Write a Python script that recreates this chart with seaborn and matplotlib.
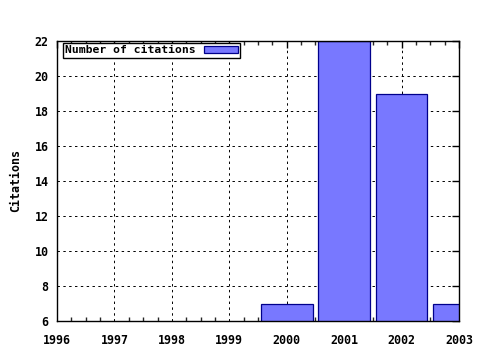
import matplotlib
matplotlib.use("Agg")
import matplotlib.pyplot as plt
from matplotlib.ticker import MultipleLocator
import seaborn as sns
import pandas as pd

years = [2000, 2001, 2002, 2003]
citations = [7, 22, 19, 7]
x_ticks = [1996, 1997, 1998, 1999, 2000, 2001, 2002, 2003]
y_ticks = [6, 8, 10, 12, 14, 16, 18, 20, 22]

sns.set_style("white")
plt.rcParams['font.family'] = ['DejaVu Sans Mono']
plt.rcParams['font.weight'] = 'bold'

df = pd.DataFrame({"year": years, "cit": citations})

fig = plt.figure(figsize=(4.8, 3.5), dpi=100)
ax = fig.add_axes([57/480, 29/350, (459-57)/480, (321-41)/350])

sns.barplot(data=df, x="year", y="cit", native_scale=True, width=0.9,
            color="#7878ff", saturation=1, edgecolor="#00008b", linewidth=0.9,
            ax=ax, label="Number of citations", zorder=3)

ax.set_xlim(1996, 2003)
ax.set_ylim(6, 22)
ax.set_xticks(x_ticks)
ax.set_xticklabels([str(v) for v in x_ticks])
ax.set_yticks(y_ticks)
ax.xaxis.set_minor_locator(MultipleLocator(0.25))
ax.grid(True, which="major", linestyle=(0, (2.5, 3.5)), color="black", linewidth=0.7, zorder=1)
ax.set_axisbelow(True)
for s in ax.spines.values():
    s.set_visible(True)
    s.set_color("black")
    s.set_linewidth(1.0)
    s.set_zorder(5)
ax.tick_params(axis="both", which="major", direction="in", length=5, width=1,
               top=True, right=True, labelsize=8.4, colors="black")
ax.tick_params(axis="x", which="major", pad=9)
ax.tick_params(axis="y", which="major", pad=6)
ax.tick_params(axis="x", which="minor", direction="in", length=3, width=1, top=True, bottom=True)
ax.set_xlabel("")
ax.set_ylabel("Citations", fontsize=8.4, fontweight="bold", color="black", labelpad=9)
for lab in ax.get_xticklabels() + ax.get_yticklabels():
    lab.set_fontweight("bold")

leg = ax.legend(loc="upper left", bbox_to_anchor=(6/402, 1 - 2/280), frameon=True, fancybox=False,
                fontsize=8.2, borderpad=0.2, handlelength=3.0, handleheight=0.55,
                handletextpad=0.7, markerfirst=False, borderaxespad=0)
leg.get_frame().set_edgecolor("black")
leg.get_frame().set_linewidth(1.0)
leg.get_frame().set_facecolor("white")
leg.get_frame().set_alpha(1)
for t in leg.get_texts():
    t.set_fontweight("bold")
    t.set_color("black")

fig.savefig("out.png", dpi=100)
